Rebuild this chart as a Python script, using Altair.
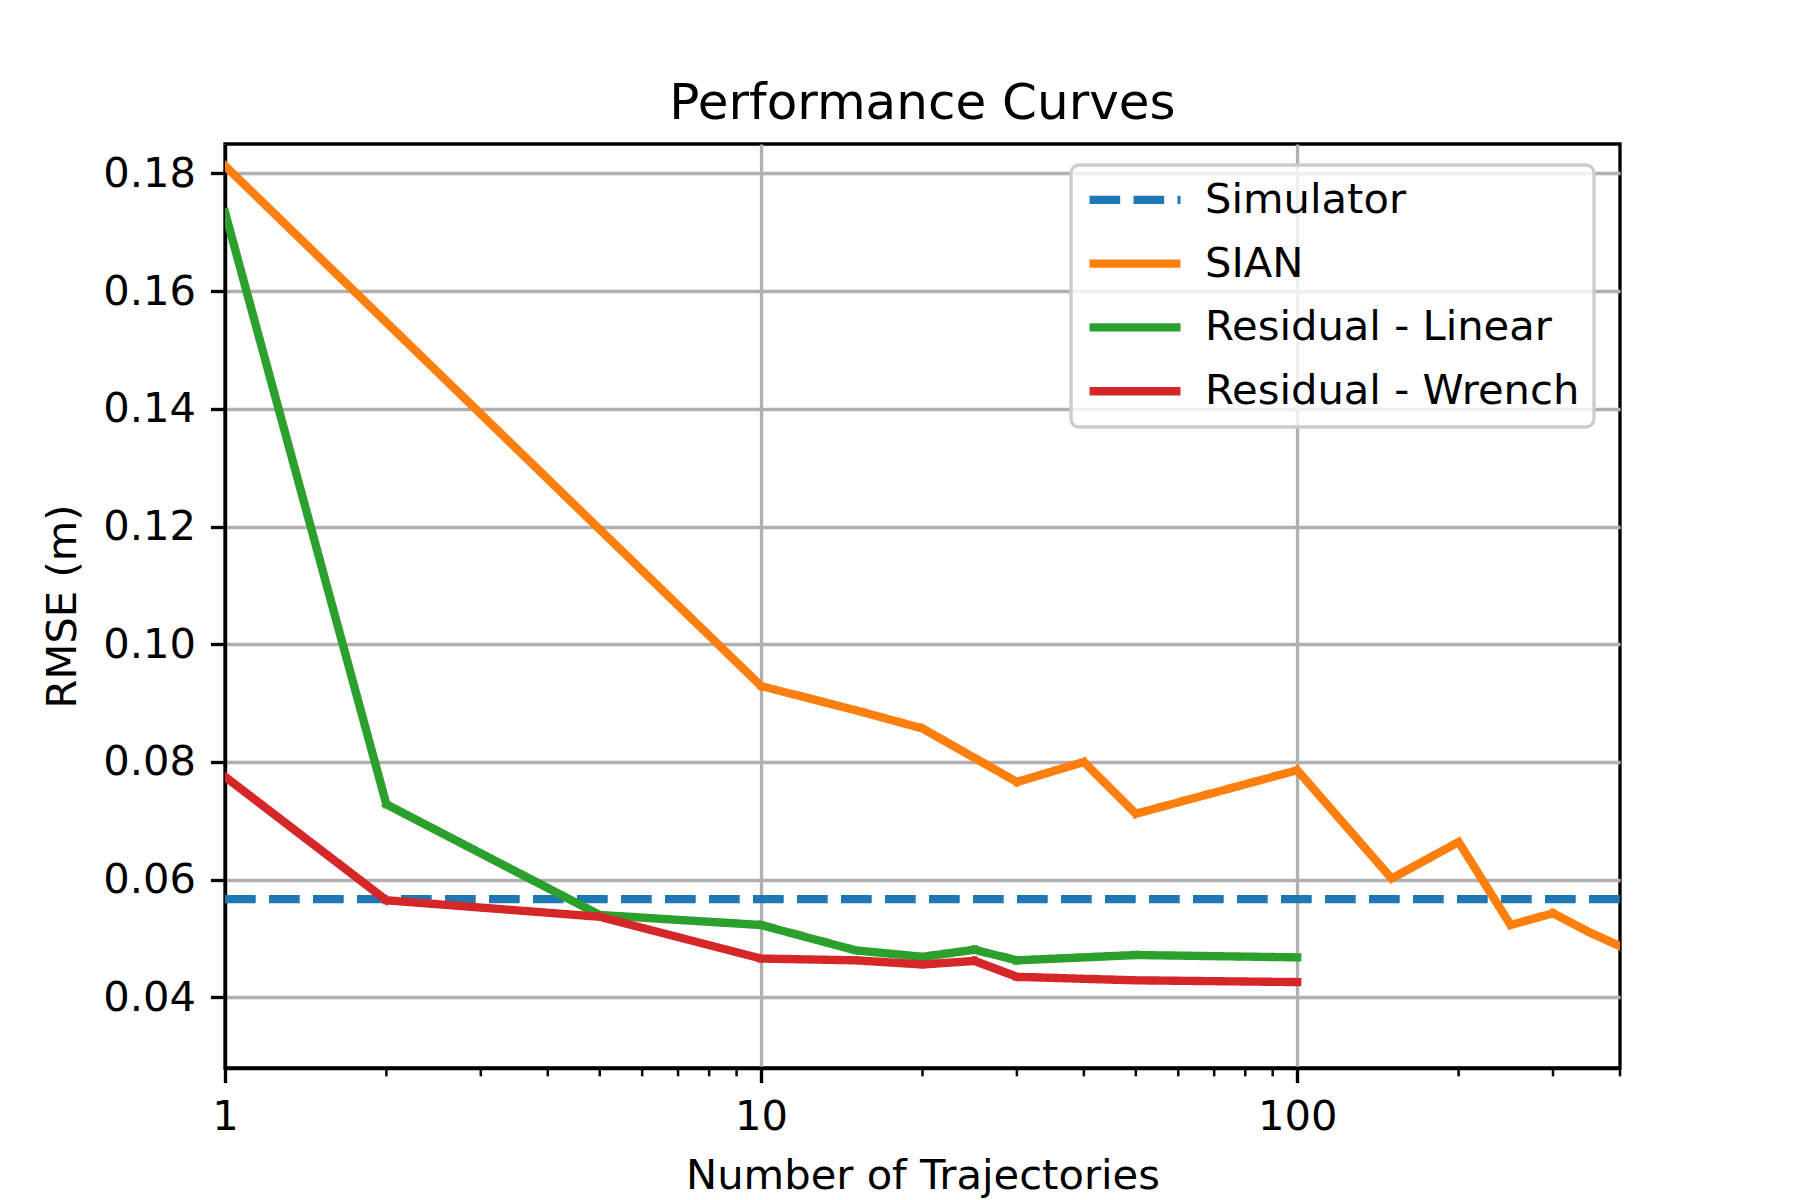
import altair as alt
import pandas as pd

# ---- data ----
series_names = ["Simulator", "SIAN", "Residual - Linear", "Residual - Wrench"]
series_colors = ["#1f77b4", "#ff7f0e", "#2ca02c", "#d62728"]

sim_n = [1, 400]
sim_rmse = [0.0567, 0.0567]

sian_n = [1, 10, 15, 20, 30, 40, 50, 100, 150, 200, 250, 300, 350, 400]
sian_rmse = [0.1813, 0.0929, 0.0888, 0.0857, 0.0766, 0.0800, 0.0712,
             0.0786, 0.0602, 0.0664, 0.0523, 0.0543, 0.0511, 0.0487]

linear_n = [1, 2, 5, 10, 15, 20, 25, 30, 50, 100]
linear_rmse = [0.1734, 0.0728, 0.0540, 0.0523, 0.0480, 0.0469, 0.0481,
               0.0463, 0.0472, 0.0468]

wrench_n = [1, 2, 5, 10, 15, 20, 25, 30, 50, 100]
wrench_rmse = [0.0775, 0.0565, 0.0537, 0.0466, 0.0463, 0.0456, 0.0462,
               0.0435, 0.0429, 0.0426]

x_major_ticks = [1, 10, 100]
x_minor_ticks = [2, 3, 4, 5, 6, 7, 8, 9, 20, 30, 40, 50, 60, 70, 80, 90,
                 200, 300, 400]
y_ticks = [0.04, 0.06, 0.08, 0.10, 0.12, 0.14, 0.16, 0.18]
x_domain = [1, 400]
y_domain = [0.0280, 0.1850]

# ---- tables ----
def frame(name, xs, ys):
    return pd.DataFrame({"series": name, "n": xs, "rmse": ys})

sim_df = frame("Simulator", sim_n, sim_rmse)
solid_df = pd.concat([
    frame("SIAN", sian_n, sian_rmse),
    frame("Residual - Linear", linear_n, linear_rmse),
    frame("Residual - Wrench", wrench_n, wrench_rmse),
], ignore_index=True)
minor_df = pd.DataFrame({"n": x_minor_ticks})

W, H = 1395, 924
FS = 41.67
LW = 8.33
AXW = 3.33

x_axis = alt.Axis(
    values=x_major_ticks, format="d", title="Number of Trajectories",
    grid=True, gridColor="#b0b0b0", gridWidth=AXW,
    domainColor="black", domainWidth=AXW,
    tickColor="black", tickWidth=AXW, tickSize=14.58,
    labelPadding=14, labelFontSize=FS, labelColor="black", labelFlush=False,
    titleFontSize=FS, titleFontWeight="normal", titleColor="black",
    titlePadding=17,
)
y_axis = alt.Axis(
    values=y_ticks, format=".2f", title="RMSE (m)",
    grid=True, gridColor="#b0b0b0", gridWidth=AXW,
    domainColor="black", domainWidth=AXW,
    tickColor="black", tickWidth=AXW, tickSize=14.58,
    labelPadding=15, labelFontSize=FS, labelColor="black",
    titleFontSize=FS, titleFontWeight="normal", titleColor="black",
    titlePadding=18,
)

x_enc = alt.X("n:Q", scale=alt.Scale(type="log", domain=x_domain, nice=False),
              axis=x_axis)
y_enc = alt.Y("rmse:Q", scale=alt.Scale(domain=y_domain, nice=False, zero=False),
              axis=y_axis)

legend = alt.Legend(
    title=None, orient="none", legendX=846, legendY=21,
    labelFontSize=FS, labelColor="black", labelLimit=900,
    symbolType="stroke", symbolSize=8281, symbolStrokeWidth=LW,
    labelOffset=20, padding=14, rowPadding=20.8, clipHeight=41.7,
    fillColor="rgba(255,255,255,0.8)", strokeColor="#cccccc",
    cornerRadius=8,
)
color_enc = alt.Color("series:N",
                      scale=alt.Scale(domain=series_names, range=series_colors),
                      legend=legend)
dash_enc = alt.StrokeDash("series:N",
                          scale=alt.Scale(domain=series_names,
                                          range=[[30.7, 13.3], [1, 0], [1, 0], [1, 0]]),
                          legend=legend)

minor = alt.Chart(minor_df).mark_rule(color="black", strokeWidth=2.5).encode(
    x=x_enc, y=alt.value(H), y2=alt.value(H + 8.33)
)

sim_line = alt.Chart(sim_df).mark_line(
    strokeWidth=LW, strokeCap="butt", clip=True
).encode(x=x_enc, y=y_enc, color=color_enc, strokeDash=dash_enc)

solid_lines = alt.Chart(solid_df).mark_line(
    strokeWidth=LW, strokeCap="square", strokeJoin="round", clip=True
).encode(x=x_enc, y=y_enc, color=color_enc, strokeDash=dash_enc)

chart = alt.layer(minor, sim_line, solid_lines).properties(
    width=W, height=H,
    title=alt.TitleParams("Performance Curves", fontSize=50, fontWeight="normal",
                          color="black", baseline="alphabetic", offset=24, dy=49,
                          frame="group", anchor="middle"),
    autosize=alt.AutoSizeParams(type="none"),
    padding={"left": 217, "top": 136, "right": 160, "bottom": 130},
).configure(
    font="DejaVu Sans",
).configure_view(
    stroke="black", strokeWidth=AXW,
).configure_legend(
    strokeWidth=AXW,
)

chart.save("out.html", embed_options={"renderer": "svg", "actions": False})
